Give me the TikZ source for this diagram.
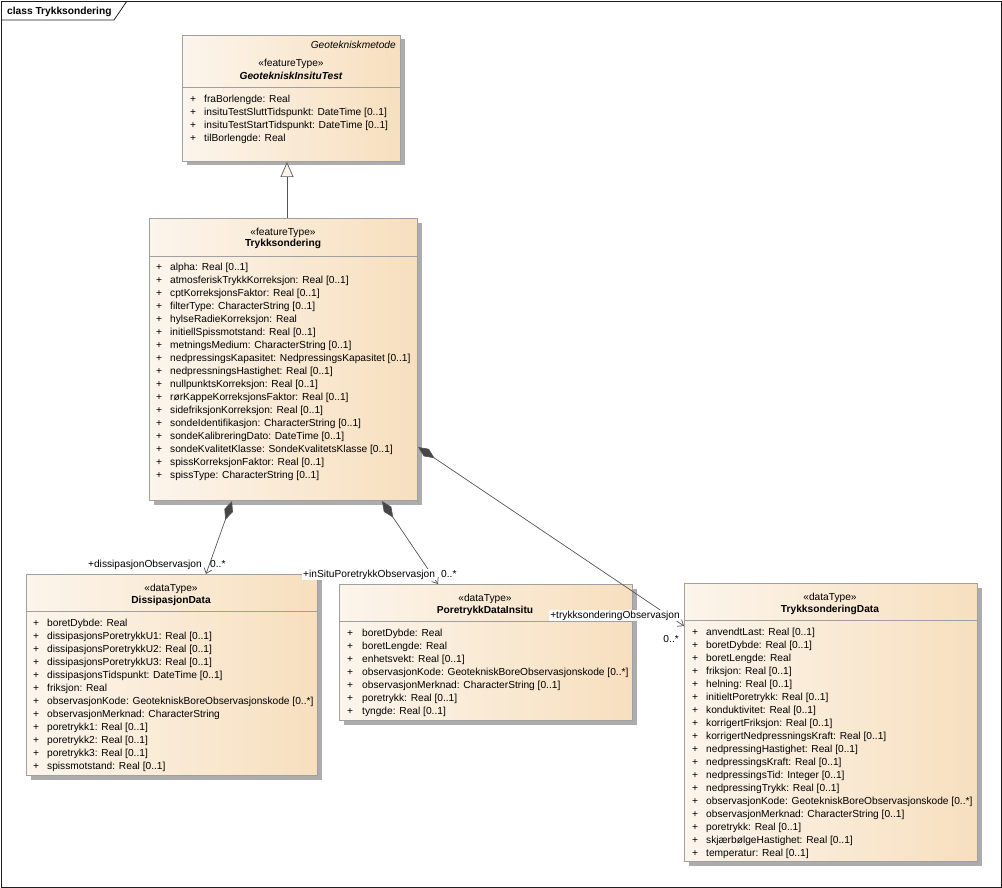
\documentclass[tikz,border=0pt]{standalone}
\usepackage{fontspec}
\setmainfont{Liberation Sans}
\usetikzlibrary{arrows.meta,shadows}
\definecolor{frameBlack}{RGB}{30, 30, 30}
\definecolor{boxLine}{RGB}{160, 160, 160}
\definecolor{boxShadow}{RGB}{172, 172, 172}
\definecolor{boxLeft}{RGB}{252, 245, 236}
\definecolor{boxRight}{RGB}{247, 223, 190}
\definecolor{linkGray}{RGB}{85, 85, 85}
\definecolor{diamondGray}{RGB}{70, 70, 70}

\tikzset{
  classbox/.style={rectangle, draw=boxLine, line width=1pt, left color=boxLeft, right color=boxRight,
    anchor=north west, inner sep=0pt,
    general shadow={fill=boxShadow, shadow xshift=4pt, shadow yshift=-4pt}},
  umltext/.style={inner sep=0pt, font=\fontsize{10.2}{12}\selectfont, text=black},
  stereo/.style={umltext, anchor=base},
  classname/.style={umltext, anchor=base, font=\fontsize{10.2}{12}\selectfont\bfseries},
  attr/.style={umltext, anchor=base west},
  rolelabel/.style={umltext, inner sep=1pt},
  generalize/.style={draw=linkGray, line width=0.7pt, -{Triangle[length=15pt, width=13pt, fill=boxLeft]}},
  compose/.style={draw=linkGray, line width=0.7pt,
    {Diamond[fill=diamondGray, length=20pt, width=9pt]}-{Straight Barb[length=5pt, width=8pt]}}
}

\begin{document}
\begin{tikzpicture}[x=1pt, y=-1pt]
  \useasboundingbox (0,0) rectangle (1002,888);

  % diagram frame
  \draw[frameBlack, line width=0.8pt] (1,1) rectangle (1001,887);
  \draw[frameBlack, line width=0.8pt] (1,20) -- (114,20) -- (127,1);
  \node[umltext, anchor=base west, font=\fontsize{10.2}{12}\selectfont\bfseries] (title) at (7,15) {class Trykksondering};

  % GeotekniskInsituTest
  \node[classbox, minimum width=218pt, minimum height=126pt] (insitu) at (182,35) {};
  \draw[boxLine, line width=1pt] ([yshift=-53pt]insitu.north west) -- ([yshift=-53pt]insitu.north east);
  \node[umltext, anchor=base east, font=\fontsize{10.2}{12}\selectfont\itshape] (insitu-pkg) at (396,49) {Geotekniskmetode};
  \node[stereo] (insitu-st) at (291,67) {«featureType»};
  \node[classname, font=\fontsize{10.2}{12}\selectfont\bfseries\itshape] (insitu-name) at (291,80) {GeotekniskInsituTest};
  \foreach \a [count=\n from 0] in {{fraBorlengde: Real}, {insituTestSluttTidspunkt: DateTime [0..1]},
      {insituTestStartTidspunkt: DateTime [0..1]}, {tilBorlengde: Real}} {
    \node[attr] (insitu-p\n) at (190,{103+13*\n}) {+};
    \node[attr] (insitu-a\n) at (204,{103+13*\n}) {\a};
  }

  % Trykksondering
  \node[classbox, minimum width=268pt, minimum height=282pt] (tryk) at (149,218) {};
  \draw[boxLine, line width=1pt] ([yshift=-38pt]tryk.north west) -- ([yshift=-38pt]tryk.north east);
  \node[stereo] (tryk-st) at (283,235) {«featureType»};
  \node[classname] (tryk-name) at (283,247) {Trykksondering};
  \foreach \a [count=\n from 0] in {{alpha: Real [0..1]}, {atmosferiskTrykkKorreksjon: Real [0..1]},
      {cptKorreksjonsFaktor: Real [0..1]}, {filterType: CharacterString [0..1]},
      {hylseRadieKorreksjon: Real}, {initiellSpissmotstand: Real [0..1]},
      {metningsMedium: CharacterString [0..1]}, {nedpressingsKapasitet: NedpressingsKapasitet [0..1]},
      {nedpressningsHastighet: Real [0..1]}, {nullpunktsKorreksjon: Real [0..1]},
      {rørKappeKorreksjonsFaktor: Real [0..1]}, {sidefriksjonKorreksjon: Real [0..1]},
      {sondeIdentifikasjon: CharacterString [0..1]}, {sondeKalibreringDato: DateTime [0..1]},
      {sondeKvalitetKlasse: SondeKvalitetsKlasse [0..1]}, {spissKorreksjonFaktor: Real [0..1]},
      {spissType: CharacterString [0..1]}} {
    \node[attr] (tryk-p\n) at (156,{270+13*\n}) {+};
    \node[attr] (tryk-a\n) at (170,{270+13*\n}) {\a};
  }

  % DissipasjonData
  \node[classbox, minimum width=291pt, minimum height=201pt] (diss) at (26,574) {};
  \draw[boxLine, line width=1pt] ([yshift=-37pt]diss.north west) -- ([yshift=-37pt]diss.north east);
  \node[stereo] (diss-st) at (171,591) {«dataType»};
  \node[classname] (diss-name) at (171,603) {DissipasjonData};
  \foreach \a [count=\n from 0] in {{boretDybde: Real}, {dissipasjonsPoretrykkU1: Real [0..1]},
      {dissipasjonsPoretrykkU2: Real [0..1]}, {dissipasjonsPoretrykkU3: Real [0..1]},
      {dissipasjonsTidspunkt: DateTime [0..1]}, {friksjon: Real},
      {observasjonKode: GeotekniskBoreObservasjonskode [0..*]}, {observasjonMerknad: CharacterString},
      {poretrykk1: Real [0..1]}, {poretrykk2: Real [0..1]}, {poretrykk3: Real [0..1]},
      {spissmotstand: Real [0..1]}} {
    \node[attr] (diss-p\n) at (33,{626+13*\n}) {+};
    \node[attr] (diss-a\n) at (47,{626+13*\n}) {\a};
  }

  % PoretrykkDataInsitu
  \node[classbox, minimum width=293pt, minimum height=136pt] (pore) at (339,584) {};
  \draw[boxLine, line width=1pt] ([yshift=-37pt]pore.north west) -- ([yshift=-37pt]pore.north east);
  \node[stereo] (pore-st) at (485,601) {«dataType»};
  \node[classname] (pore-name) at (485,613) {PoretrykkDataInsitu};
  \foreach \a [count=\n from 0] in {{boretDybde: Real}, {boretLengde: Real}, {enhetsvekt: Real [0..1]},
      {observasjonKode: GeotekniskBoreObservasjonskode [0..*]},
      {observasjonMerknad: CharacterString [0..1]}, {poretrykk: Real [0..1]}, {tyngde: Real [0..1]}} {
    \node[attr] (pore-p\n) at (347,{636+13*\n}) {+};
    \node[attr] (pore-a\n) at (362,{636+13*\n}) {\a};
  }

  % TrykksonderingData
  \node[classbox, minimum width=293pt, minimum height=278pt] (trykdata) at (684,583) {};
  \draw[boxLine, line width=1pt] ([yshift=-37pt]trykdata.north west) -- ([yshift=-37pt]trykdata.north east);
  \node[stereo] (trykdata-st) at (830,600) {«dataType»};
  \node[classname] (trykdata-name) at (830,612) {TrykksonderingData};
  \foreach \a [count=\n from 0] in {{anvendtLast: Real [0..1]}, {boretDybde: Real [0..1]},
      {boretLengde: Real}, {friksjon: Real [0..1]}, {helning: Real [0..1]},
      {initieltPoretrykk: Real [0..1]}, {konduktivitet: Real [0..1]},
      {korrigertFriksjon: Real [0..1]}, {korrigertNedpressningsKraft: Real [0..1]},
      {nedpressingHastighet: Real [0..1]}, {nedpressingsKraft: Real [0..1]},
      {nedpressingsTid: Integer [0..1]}, {nedpressingTrykk: Real [0..1]},
      {observasjonKode: GeotekniskBoreObservasjonskode [0..*]},
      {observasjonMerknad: CharacterString [0..1]}, {poretrykk: Real [0..1]},
      {skjærbølgeHastighet: Real [0..1]}, {temperatur: Real [0..1]}} {
    \node[attr] (trykdata-p\n) at (692,{635+13*\n}) {+};
    \node[attr] (trykdata-a\n) at (706,{635+13*\n}) {\a};
  }

  % connectors
  \draw[generalize] (tryk.north -| 287,0) -- (insitu.south -| 287,0);
  \draw[compose] (tryk.south -| 232,0) -- (diss.north -| 206,0);
  \draw[compose] (tryk.south -| 382,0) -- (pore.north -| 438,0);
  \draw[compose] (tryk.east |- 0,447) -- (trykdata.west |- 0,626);

  % role names and multiplicities
  \node[rolelabel, anchor=base east] (role-diss) at (203,567) {+dissipasjonObservasjon};
  \node[rolelabel, anchor=base west] (mult-diss) at (209,567) {0..*};
  \node[rolelabel, anchor=base west, fill=white] (role-pore) at (302,577) {+inSituPoretrykkObservasjon};
  \node[rolelabel, anchor=base west] (mult-pore) at (440,577) {0..*};
  \node[rolelabel, anchor=base east, fill=white] (role-trykdata) at (681,618) {+trykksonderingObservasjon};
  \node[rolelabel, anchor=base east] (mult-trykdata) at (680,642) {0..*};
\end{tikzpicture}
\end{document}
